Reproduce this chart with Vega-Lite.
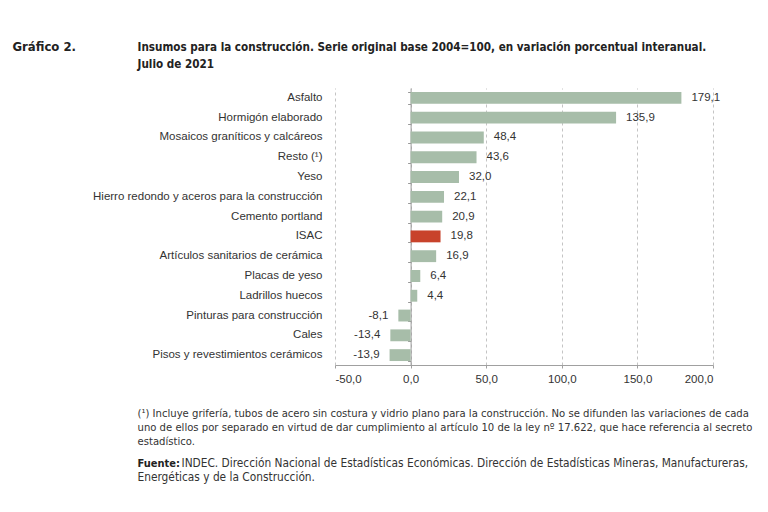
{
  "$schema": "https://vega.github.io/schema/vega-lite/v6.json",
  "width": 378,
  "height": 277,
  "autosize": {"type": "none"},
  "padding": {"left": 335, "top": 88, "right": 55, "bottom": 147},
  "background": "white",
  "config": {
    "view": {"stroke": null},
    "locale": {"number": {"decimal": ",", "thousands": ".", "grouping": [3], "currency": ["$", ""], "minus": "-"}},
    "axis": {"labelFont": "Liberation Sans", "labelFontSize": 11.5, "labelColor": "#333333", "titleFont": "Liberation Sans Narrow, DejaVu Sans Condensed, sans-serif"}
  },
  "data": {
    "values": [
      {"name": "Asfalto", "v": 179.1},
      {"name": "Hormigón elaborado", "v": 135.9},
      {"name": "Mosaicos graníticos y calcáreos", "v": 48.4},
      {"name": "Resto (¹)", "v": 43.6},
      {"name": "Yeso", "v": 32.0},
      {"name": "Hierro redondo y aceros para la construcción", "v": 22.1},
      {"name": "Cemento portland", "v": 20.9},
      {"name": "ISAC", "v": 19.8},
      {"name": "Artículos sanitarios de cerámica", "v": 16.9},
      {"name": "Placas de yeso", "v": 6.4},
      {"name": "Ladrillos huecos", "v": 4.4},
      {"name": "Pinturas para construcción", "v": -8.1},
      {"name": "Cales", "v": -13.4},
      {"name": "Pisos y revestimientos cerámicos", "v": -13.9}
    ]
  },
  "resolve": {"axis": {"y": "independent", "x": "independent"}},
  "layer": [
    {
      "transform": [{"filter": "datum.name !== 'ISAC'"}],
      "mark": {"type": "bar", "color": "#a7bda9"},
      "encoding": {
        "y": {
          "field": "name", "type": "nominal",
          "scale": {"domain": ["Asfalto", "Hormigón elaborado", "Mosaicos graníticos y calcáreos", "Resto (¹)", "Yeso", "Hierro redondo y aceros para la construcción", "Cemento portland", "ISAC", "Artículos sanitarios de cerámica", "Placas de yeso", "Ladrillos huecos", "Pinturas para construcción", "Cales", "Pisos y revestimientos cerámicos"], "paddingInner": 0.4, "paddingOuter": 0.2},
          "axis": {
            "orient": "left", "domain": false, "ticks": false, "tickSize": 0, "labelPadding": 13, "labelLimit": 400,
            "title": "Gráfico 2.", "titleX": -323, "titleY": -38, "titleAngle": 0, "titleAlign": "left", "titleBaseline": "alphabetic",
            "titleFontSize": 13, "titleFontWeight": "bold", "titleColor": "#222222"
          }
        },
        "x": {
          "field": "v", "type": "quantitative",
          "scale": {"domain": [-50, 200], "nice": false, "zero": false},
          "axis": {
            "orient": "bottom",
            "values": [-50, 0, 50, 100, 150, 200], "format": ".1f",
            "grid": true, "gridDash": [3, 3], "gridColor": "#c4c4c4",
            "domainColor": "#a0a0a0", "tickColor": "#a0a0a0", "tickSize": 3, "labelPadding": 5,
            "title": ["(¹) Incluye grifería, tubos de acero sin costura y vidrio plano para la construcción. No se difunden las variaciones de cada", "uno de ellos por separado en virtud de dar cumplimiento al artículo 10 de la ley nº 17.622, que hace referencia al secreto", "estadístico."],
            "titleX": -198, "titleY": 51, "titleAlign": "left", "titleBaseline": "alphabetic", "titleAngle": 0,
            "titleFontSize": 11.2, "titleFontWeight": "normal", "titleColor": "#333333", "titleLineHeight": 14
          }
        }
      }
    },
    {
      "transform": [{"filter": "datum.v >= 0"}],
      "mark": {"type": "text", "align": "left", "dx": 10, "font": "Liberation Sans", "fontSize": 11.5, "color": "#333333"},
      "encoding": {
        "y": {
          "field": "name", "type": "nominal",
          "axis": {
            "orient": "left", "offset": -75.6, "labels": false, "grid": false,
            "domain": true, "domainColor": "#999999", "ticks": true, "tickBand": "extent", "tickSize": 3, "tickColor": "#999999",
            "title": "Fuente:", "titleX": -273.6, "titleY": 378, "titleAngle": 0, "titleAlign": "left", "titleBaseline": "alphabetic",
            "titleFontSize": 11, "titleFontWeight": "bold", "titleColor": "#222222"
          }
        },
        "x": {
          "field": "v", "type": "quantitative",
          "axis": {
            "orient": "top", "labels": false, "ticks": false, "domain": false, "grid": false,
            "title": ["Insumos para la construcción. Serie original base 2004=100, en variación porcentual interanual.", "Julio de 2021"],
            "titleX": -198, "titleY": -38, "titleAlign": "left", "titleBaseline": "alphabetic", "titleAngle": 0,
            "titleFontSize": 11.6, "titleFontWeight": "bold", "titleColor": "#222222", "titleLineHeight": 17
          }
        },
        "text": {"field": "v", "type": "quantitative", "format": ".1f"}
      }
    },
    {
      "transform": [{"filter": "datum.v < 0"}],
      "mark": {"type": "text", "align": "right", "dx": -10, "font": "Liberation Sans", "fontSize": 11.5, "color": "#333333"},
      "encoding": {
        "y": {
          "field": "name", "type": "nominal",
          "axis": {
            "orient": "right", "labels": false, "grid": false, "domain": false, "ticks": false,
            "title": "INDEC. Dirección Nacional de Estadísticas Económicas. Dirección de Estadísticas Mineras, Manufactureras,",
            "titleX": -532, "titleY": 378, "titleAngle": 0, "titleAlign": "left", "titleBaseline": "alphabetic",
            "titleFontSize": 11.8, "titleFontWeight": "normal", "titleColor": "#333333"
          }
        },
        "x": {"field": "v", "type": "quantitative", "axis": null},
        "text": {"field": "v", "type": "quantitative", "format": ".1f"}
      }
    },
    {
      "transform": [{"filter": "datum.name === 'ISAC'"}],
      "mark": {"type": "bar", "color": "#c8432b"},
      "encoding": {
        "y": {
          "field": "name", "type": "nominal",
          "axis": {
            "orient": "left", "labels": false, "grid": false, "domain": false, "ticks": false,
            "title": "Energéticas y de la Construcción.",
            "titleX": -198, "titleY": 392, "titleAngle": 0, "titleAlign": "left", "titleBaseline": "alphabetic",
            "titleFontSize": 11.8, "titleFontWeight": "normal", "titleColor": "#333333"
          }
        },
        "x": {"field": "v", "type": "quantitative", "axis": null}
      }
    }
  ]
}
